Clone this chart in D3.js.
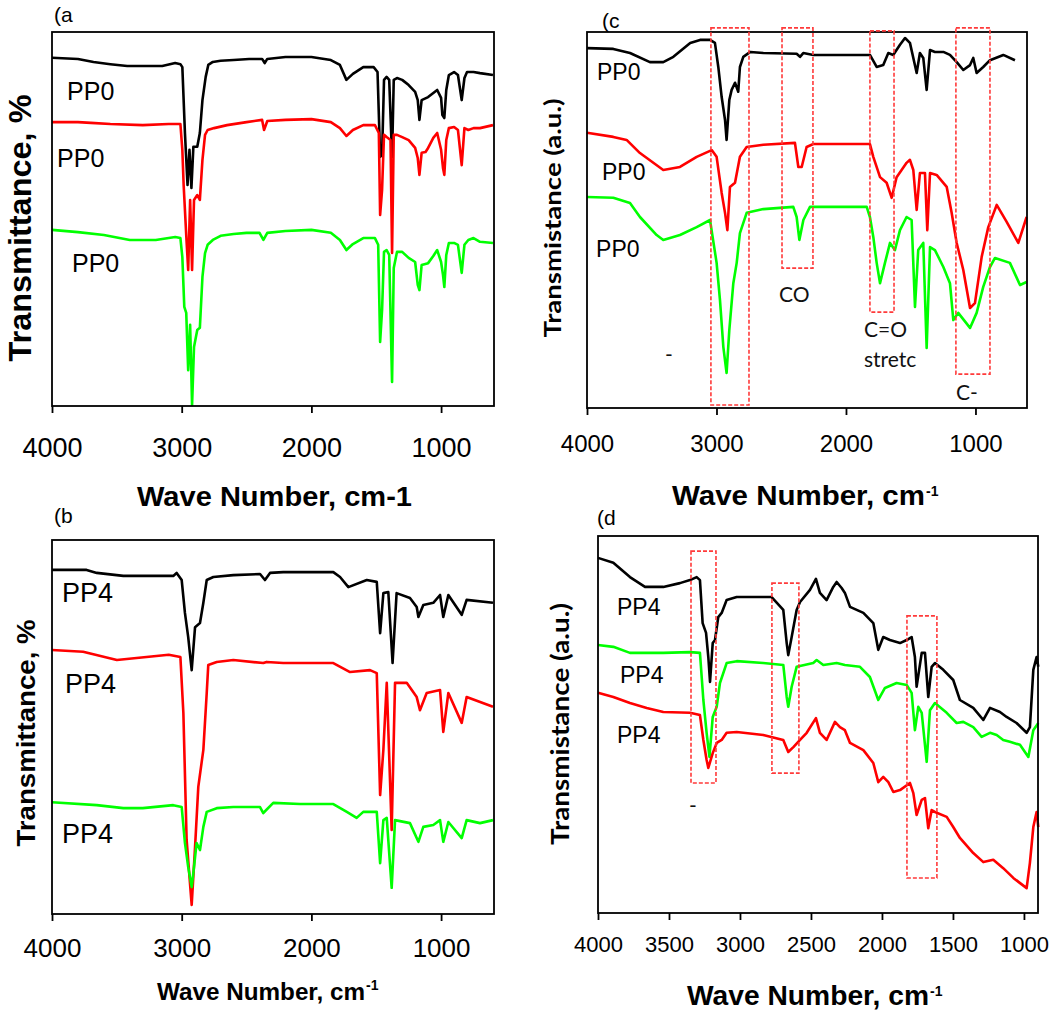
<!DOCTYPE html>
<html><head><meta charset="utf-8">
<script src="https://cdn.jsdelivr.net/npm/d3@7"></script>
<style>body{margin:0;background:#fff}</style>
</head><body>
<svg id="chart" width="1050" height="1011"></svg>
<script>
// ---------- data ----------
const ticksWide = [4000, 3000, 2000, 1000];
const ticksFine = [4000, 3500, 3000, 2500, 2000, 1500, 1000];

// panel (a) PP0 spectra [wavenumber, transmittance (rel.)]
const a_black = [[4000,93.1],[3800,92.8],[3680,92.0],[3550,91.4],[3420,90.9],[3150,90.9],[3050,91.7],[3010,91.4],[2995,90.6],[2975,73.0],[2955,59.1],[2940,68.5],[2925,58.3],[2910,69.3],[2880,69.3],[2860,73.0],[2840,81.8],[2815,88.0],[2795,91.2],[2760,92.0],[2700,92.3],[2600,92.5],[2480,92.8],[2380,92.8],[2360,91.7],[2340,92.8],[2200,93.3],[2000,93.3],[1850,92.5],[1780,91.2],[1730,87.2],[1680,88.8],[1600,90.6],[1520,90.6],[1490,89.3],[1470,66.6],[1455,67.1],[1440,87.2],[1420,88.0],[1400,87.2],[1378,66.6],[1365,87.2],[1340,87.7],[1300,87.2],[1250,85.8],[1200,84.0],[1180,81.8],[1167,76.5],[1150,81.8],[1100,82.6],[1060,83.7],[1030,84.5],[1000,82.4],[990,77.8],[975,77.0],[960,84.5],[940,88.5],[900,89.3],[870,88.5],[841,81.8],[820,87.7],[800,89.3],[750,89.3],[700,89.0],[600,88.5]];
const a_red = [[4000,75.9],[3800,75.9],[3700,75.7],[3550,75.4],[3300,75.1],[3100,75.4],[3010,75.4],[2995,68.5],[2985,59.1],[2965,45.7],[2950,36.4],[2935,55.1],[2920,36.4],[2905,55.1],[2880,56.4],[2860,55.1],[2840,65.8],[2820,72.5],[2800,73.8],[2750,74.3],[2650,75.1],[2500,75.9],[2380,76.5],[2365,73.8],[2340,76.2],[2200,76.5],[2000,76.7],[1850,75.9],[1780,74.3],[1730,72.2],[1680,73.8],[1600,75.1],[1510,75.1],[1480,73.0],[1470,51.1],[1455,57.8],[1440,72.5],[1420,71.9],[1390,71.1],[1378,40.9],[1365,72.5],[1340,72.5],[1300,71.9],[1250,71.1],[1200,69.0],[1180,66.3],[1167,61.8],[1150,67.7],[1120,67.9],[1100,69.0],[1060,71.7],[1030,73.0],[1000,68.5],[985,63.6],[975,61.8],[960,71.1],[940,74.3],[900,74.6],[870,73.8],[841,64.4],[820,74.3],[790,73.8],[750,74.3],[700,74.3],[600,75.1]];
const a_green = [[4000,47.1],[3800,46.5],[3600,45.7],[3400,44.4],[3200,44.4],[3050,45.2],[3010,44.9],[2995,39.8],[2980,26.5],[2965,24.9],[2950,9.6],[2935,21.7],[2920,0.3],[2905,15.8],[2880,20.3],[2860,20.9],[2840,34.5],[2820,40.9],[2800,43.1],[2760,44.4],[2700,45.5],[2600,46.0],[2500,46.3],[2400,46.3],[2370,44.4],[2340,46.3],[2200,46.8],[2000,47.1],[1850,46.3],[1780,44.4],[1730,41.7],[1680,43.3],[1600,44.9],[1510,44.9],[1485,43.1],[1470,17.1],[1455,25.7],[1440,41.2],[1420,41.7],[1400,40.4],[1378,6.4],[1365,36.9],[1340,41.2],[1300,41.2],[1250,39.6],[1200,38.5],[1180,32.4],[1167,31.0],[1150,37.7],[1100,38.2],[1060,40.1],[1030,41.7],[1000,38.5],[985,35.0],[975,31.8],[960,40.4],[940,43.6],[900,43.6],[870,43.1],[841,35.6],[820,43.1],[790,44.4],[750,44.9],[700,43.9],[600,43.6]];

// panel (b) PP4 spectra
const b_black = [[4000,92.0],[3733,92.0],[3655,91.2],[3450,90.4],[3065,90.4],[3039,91.2],[3000,89.3],[2975,80.5],[2950,74.1],[2923,65.2],[2897,76.7],[2859,77.8],[2833,83.2],[2807,89.3],[2756,90.1],[2602,90.6],[2396,90.9],[2358,89.3],[2319,91.2],[2217,91.4],[1831,91.4],[1779,90.1],[1715,87.4],[1573,89.3],[1496,88.8],[1470,75.1],[1445,85.8],[1407,86.1],[1374,67.1],[1343,85.8],[1240,84.5],[1188,82.1],[1175,79.4],[1137,82.6],[1060,83.2],[1008,85.3],[983,79.4],[944,85.3],[841,80.0],[803,84.0],[600,83.2]];
const b_red = [[4000,70.6],[3760,70.1],[3500,67.9],[3100,69.3],[3010,68.7],[2987,53.7],[2962,19.8],[2923,2.4],[2897,17.9],[2872,34.0],[2833,43.9],[2807,59.1],[2795,66.6],[2730,67.4],[2602,67.9],[2371,67.1],[2345,67.4],[2217,67.1],[1831,67.1],[1702,64.7],[1548,65.2],[1496,64.4],[1470,31.8],[1445,43.9],[1419,61.8],[1381,22.5],[1355,61.8],[1265,61.8],[1188,58.0],[1163,54.5],[1111,59.1],[1008,59.9],[983,48.7],[944,59.1],[841,51.1],[803,58.0],[600,55.4]];
const b_green = [[4000,29.9],[3655,29.1],[3450,28.3],[3300,28.3],[3065,29.1],[3000,28.6],[2975,19.0],[2950,12.6],[2923,7.2],[2910,11.0],[2885,19.0],[2859,17.1],[2833,23.3],[2807,27.3],[2730,28.3],[2602,28.6],[2396,28.6],[2371,27.0],[2294,29.7],[2088,29.4],[1831,29.4],[1727,27.3],[1651,25.7],[1600,27.3],[1496,27.3],[1470,13.6],[1445,25.1],[1419,25.7],[1381,7.0],[1355,25.1],[1240,24.3],[1175,19.3],[1137,23.3],[1060,23.8],[1008,25.1],[983,19.3],[944,24.6],[841,20.3],[803,25.1],[700,24.3],[600,25.1]];

// panel (c) PP0 spectra
const c_black = [[4000,95.7],[3797,95.5],[3668,94.4],[3514,92.0],[3411,92.0],[3333,93.4],[3203,97.1],[3127,97.9],[3050,97.9],[3012,97.1],[2986,90.7],[2960,82.7],[2934,76.6],[2922,71.3],[2901,81.9],[2883,84.6],[2857,86.5],[2832,84.1],[2819,90.7],[2793,93.4],[2739,94.7],[2638,94.4],[2381,94.2],[2355,93.4],[2330,94.4],[2252,93.9],[1815,93.9],[1763,90.7],[1712,91.2],[1673,94.4],[1635,93.9],[1583,96.6],[1544,98.4],[1506,97.1],[1454,89.1],[1429,94.4],[1403,93.1],[1377,84.6],[1351,95.2],[1313,94.7],[1248,94.7],[1197,93.9],[1145,92.0],[1094,89.9],[1042,91.2],[1017,93.1],[991,89.1],[940,90.7],[888,92.5],[785,93.9],[695,92.5]];
const c_red = [[4000,73.2],[3797,72.1],[3694,71.3],[3591,67.8],[3411,63.3],[3282,64.1],[3153,66.8],[3037,68.6],[2999,66.8],[2960,57.2],[2934,51.9],[2916,47.3],[2896,58.8],[2857,59.9],[2819,66.8],[2767,69.4],[2638,70.0],[2394,70.5],[2368,64.1],[2342,64.1],[2304,69.4],[2252,70.2],[1815,70.2],[1789,66.8],[1737,61.4],[1686,59.9],[1647,55.9],[1609,61.4],[1532,65.2],[1506,66.0],[1480,63.3],[1454,52.7],[1429,62.5],[1390,62.5],[1372,47.3],[1351,62.5],[1300,62.0],[1222,58.8],[1184,51.9],[1145,43.9],[1094,36.7],[1042,26.6],[1004,27.9],[952,40.2],[901,48.1],[836,54.0],[759,49.5],[669,43.9],[605,50.8]];
const c_green = [[4000,56.1],[3797,55.9],[3668,54.5],[3591,50.8],[3462,46.0],[3411,44.7],[3282,46.0],[3153,48.1],[3050,50.0],[2999,38.6],[2973,28.7],[2947,16.2],[2922,9.3],[2901,20.7],[2870,33.2],[2844,38.6],[2819,46.5],[2767,51.9],[2638,52.9],[2407,53.5],[2381,50.8],[2360,44.7],[2329,50.0],[2278,53.5],[1840,53.5],[1815,50.8],[1789,45.5],[1763,38.6],[1737,33.2],[1699,38.6],[1660,43.9],[1622,42.0],[1583,47.3],[1532,50.8],[1493,50.0],[1467,26.9],[1442,42.0],[1403,43.9],[1377,16.0],[1351,42.8],[1313,42.0],[1248,37.5],[1197,33.2],[1171,23.4],[1133,25.3],[1042,21.3],[991,25.3],[940,32.2],[888,37.5],[849,39.9],[734,38.6],[656,32.7],[605,33.5]];

// panel (d) PP4 spectra
const d_black = [[4000,94.2],[3892,92.9],[3775,89.1],[3669,86.5],[3540,86.5],[3423,87.5],[3352,88.3],[3305,89.1],[3282,88.3],[3263,76.9],[3239,74.3],[3223,67.9],[3211,61.3],[3192,71.6],[3176,72.4],[3153,78.5],[3129,79.6],[3094,83.0],[3023,83.8],[2836,83.8],[2777,83.8],[2695,80.4],[2671,71.6],[2660,68.4],[2636,73.2],[2601,80.4],[2577,82.5],[2507,85.7],[2465,88.6],[2437,84.9],[2390,83.0],[2343,86.5],[2319,87.8],[2284,86.2],[2261,84.9],[2225,81.2],[2131,79.6],[2061,76.9],[2026,69.8],[1991,73.2],[1944,72.4],[1873,71.6],[1826,72.4],[1791,73.2],[1768,67.9],[1756,60.0],[1720,69.0],[1697,69.0],[1674,57.3],[1650,65.3],[1627,66.3],[1568,64.5],[1498,61.8],[1451,56.5],[1357,54.4],[1286,51.2],[1239,54.4],[1169,53.3],[1122,52.0],[1052,50.4],[981,47.8],[958,49.3],[934,64.5],[911,67.9],[899,65.3]];
const d_green = [[4000,71.1],[3892,70.6],[3775,69.0],[3540,69.0],[3352,69.2],[3282,69.0],[3258,56.5],[3235,47.8],[3215,41.4],[3192,52.0],[3164,54.7],[3141,61.0],[3094,66.3],[3023,66.8],[2836,66.3],[2695,65.8],[2671,57.3],[2660,54.7],[2636,60.0],[2601,65.3],[2484,66.3],[2460,67.1],[2413,65.8],[2319,66.3],[2261,65.8],[2155,65.3],[2085,62.6],[2026,56.5],[1979,59.7],[1897,61.0],[1826,60.5],[1791,58.4],[1768,48.5],[1744,54.7],[1720,53.1],[1685,40.1],[1662,53.8],[1627,55.7],[1544,53.1],[1474,50.4],[1427,50.7],[1357,49.3],[1298,46.7],[1239,47.8],[1192,47.2],[1146,45.9],[1099,45.4],[1028,44.6],[969,41.4],[934,48.5],[899,50.4]];
const d_red = [[4000,58.4],[3892,57.3],[3775,55.7],[3657,54.4],[3540,53.3],[3352,53.1],[3282,52.5],[3258,45.9],[3235,40.6],[3223,38.5],[3192,42.4],[3164,45.1],[3129,45.9],[3094,47.8],[3023,48.0],[2836,47.2],[2695,45.9],[2660,42.7],[2624,44.0],[2577,45.9],[2530,47.8],[2465,51.7],[2437,47.8],[2390,45.9],[2331,50.7],[2296,49.3],[2261,48.5],[2225,45.1],[2131,43.2],[2061,39.8],[2026,34.7],[1991,36.1],[1955,34.7],[1920,32.1],[1873,32.6],[1803,34.5],[1779,31.8],[1756,26.0],[1720,30.0],[1697,30.5],[1674,22.5],[1650,27.3],[1627,26.8],[1544,25.5],[1498,22.8],[1451,19.9],[1357,15.9],[1286,13.5],[1216,14.1],[1146,11.9],[1075,9.3],[981,6.6],[958,13.3],[934,22.8],[911,26.8],[899,22.8]];

// series labels [text, wavenumber, level]
const a_tags = [["PP0",3884,81.8],["PP0",3961,63.9],["PP0",3846,35.8]];
const b_tags = [["PP4",3923,83.4],["PP4",3900,59.1],["PP4",3923,19.0]];
const c_tags = [["PP0",3923,87.2],["PP0",3884,60.6],["PP0",3930,40.2]];
const d_tags = [["PP4",3866,79.1],["PP4",3845,61.0],["PP4",3866,45.1]];

// highlighted bands [wnFrom, wnTo, top, bottom]
const c_boxes = [[3043,2749,101.1,0.8],[2494,2255,101.1,37.2],[1815,1629,100.3,25.5],[1151,888,101.1,9.0]];
const d_boxes = [[3345,3169,96.0,34.5],[2775,2585,87.5,37.1],[1824,1613,78.8,9.3]];
// band notes [text, wavenumber, level]
const c_notes = [["CO",2517,28.2],["C=O",1861,18.9],["stretc",1861,10.9],["C-",1150,2.1],["-",3398,12.2]];
const d_notes = [["-",3359,26.5]];

// ---------- drawing ----------
const svg = d3.select('#chart');
const ARIAL = "'Liberation Sans', Arial, sans-serif";
const CALI = "Lato, 'Open Sans', sans-serif";

function panel(cfg) {
  const x = d3.scaleLinear().domain(cfg.xDomain).range([cfg.left, cfg.right]);
  const y = d3.scaleLinear().domain([0, 100]).range([cfg.bottom, cfg.top]);
  const g = svg.append('g');

  const line = d3.line().x(d => x(d[0])).y(d => y(d[1]));
  cfg.series.forEach(s => {
    g.append('path').datum(s.data).attr('d', line)
      .attr('fill', 'none').attr('stroke', s.color).attr('stroke-width', 2.6)
      .attr('stroke-linejoin', 'round');
  });

  g.append('rect').attr('x', cfg.left).attr('y', cfg.top)
    .attr('width', cfg.right - cfg.left).attr('height', cfg.bottom - cfg.top)
    .attr('fill', 'none').attr('stroke', '#000').attr('stroke-width', 1.8);

  const ax = d3.axisBottom(x).tickValues(cfg.ticks).tickSize(7).tickFormat(d3.format('d'));
  const axg = g.append('g').attr('transform', `translate(0,${cfg.bottom})`).call(ax);
  axg.select('.domain').remove();
  axg.selectAll('.tick line').attr('stroke', '#000').attr('stroke-width', 1.8);
  axg.selectAll('.tick text').attr('font-size', cfg.tickFont).attr('font-family', ARIAL)
    .attr('fill', '#000').attr('y', cfg.tickY).attr('dy', 0);

  (cfg.boxes || []).forEach(b => {
    g.append('rect').attr('x', x(b[0])).attr('y', y(b[2]))
      .attr('width', x(b[1]) - x(b[0])).attr('height', y(b[3]) - y(b[2]))
      .attr('fill', 'none').attr('stroke', '#ff3a3a').attr('stroke-width', 1.6)
      .attr('stroke-dasharray', '4 2');
  });
  (cfg.notes || []).forEach(n => {
    g.append('text').attr('x', x(n[1])).attr('y', y(n[2])).text(n[0])
      .attr('font-family', CALI).attr('font-size', 21).attr('fill', '#111');
  });
  cfg.tags.forEach(t => {
    g.append('text').attr('x', x(t[1])).attr('y', y(t[2])).text(t[0])
      .attr('font-family', ARIAL).attr('font-size', cfg.tagFont).attr('fill', '#000');
  });

  // panel letter
  g.append('text').attr('x', cfg.letter[0]).attr('y', cfg.letter[1]).text(cfg.letterText)
    .attr('font-family', ARIAL).attr('font-size', 21).attr('fill', '#000');

  // x title
  const xt = cfg.xTitle;
  g.append('text').attr('x', xt.x).attr('y', xt.y).text(xt.text)
    .attr('font-family', ARIAL).attr('font-weight', 'bold').attr('font-size', xt.size)
    .attr('textLength', xt.len).attr('lengthAdjust', 'spacingAndGlyphs').attr('fill', '#000');
  if (xt.sup) {
    g.append('text').attr('x', xt.x + xt.len + 1).attr('y', xt.supY).text(xt.sup)
      .attr('font-family', ARIAL).attr('font-weight', 'bold').attr('font-size', 14).attr('fill', '#000');
  }
  // y title
  const yt = cfg.yTitle;
  g.append('text').attr('transform', `translate(${yt.x},${yt.y}) rotate(-90)`)
    .attr('text-anchor', 'middle').text(yt.text)
    .attr('font-family', yt.font).attr('font-weight', 'bold').attr('font-size', yt.size)
    .attr('textLength', yt.len).attr('lengthAdjust', 'spacingAndGlyphs').attr('fill', '#000');
}

panel({
  left: 52, right: 494, top: 32, bottom: 406, xDomain: [4000, 592], ticks: ticksWide,
  tickFont: 27, tickY: 51, tagFont: 25,
  series: [{data: a_black, color: '#000'}, {data: a_red, color: '#ff0000'}, {data: a_green, color: '#00ff00'}],
  tags: a_tags, letter: [54, 22], letterText: '(a',
  xTitle: {text: 'Wave Number, cm-1', x: 137, y: 506, size: 28, len: 275},
  yTitle: {text: 'Transmittance, %', x: 31, y: 228, size: 32, len: 267, font: ARIAL}
});
panel({
  left: 52, right: 494, top: 540, bottom: 914, xDomain: [4000, 592], ticks: ticksWide,
  tickFont: 26, tickY: 43, tagFont: 27,
  series: [{data: b_black, color: '#000'}, {data: b_red, color: '#ff0000'}, {data: b_green, color: '#00ff00'}],
  tags: b_tags, letter: [54, 523], letterText: '(b',
  xTitle: {text: 'Wave Number, cm', x: 157, y: 1000, size: 24, len: 208, sup: '-1', supY: 990},
  yTitle: {text: 'Transmittance, %', x: 35, y: 733, size: 26, len: 227, font: ARIAL}
});
panel({
  left: 587, right: 1027, top: 32, bottom: 408, xDomain: [4000, 602], ticks: ticksWide,
  tickFont: 24, tickY: 44, tagFont: 23,
  series: [{data: c_black, color: '#000'}, {data: c_red, color: '#ff0000'}, {data: c_green, color: '#00ff00'}],
  tags: c_tags, boxes: c_boxes, notes: c_notes, letter: [602, 28], letterText: '(c',
  xTitle: {text: 'Wave Number, cm', x: 672, y: 505, size: 28, len: 253, sup: '-1', supY: 496},
  yTitle: {text: 'Transmistance (a.u.)', x: 561, y: 218, size: 23, len: 239, font: CALI}
});
panel({
  left: 598, right: 1038, top: 536, bottom: 913, xDomain: [4000, 901], ticks: ticksFine,
  tickFont: 22, tickY: 39, tagFont: 23,
  series: [{data: d_black, color: '#000'}, {data: d_green, color: '#00ff00'}, {data: d_red, color: '#ff0000'}],
  tags: d_tags, boxes: d_boxes, notes: d_notes, letter: [597, 525], letterText: '(d',
  xTitle: {text: 'Wave Number, cm', x: 687, y: 1005, size: 27, len: 242, sup: '-1', supY: 996},
  yTitle: {text: 'Transmistance (a.u.)', x: 569, y: 724, size: 24, len: 242, font: CALI}
});
</script>
</body></html>
